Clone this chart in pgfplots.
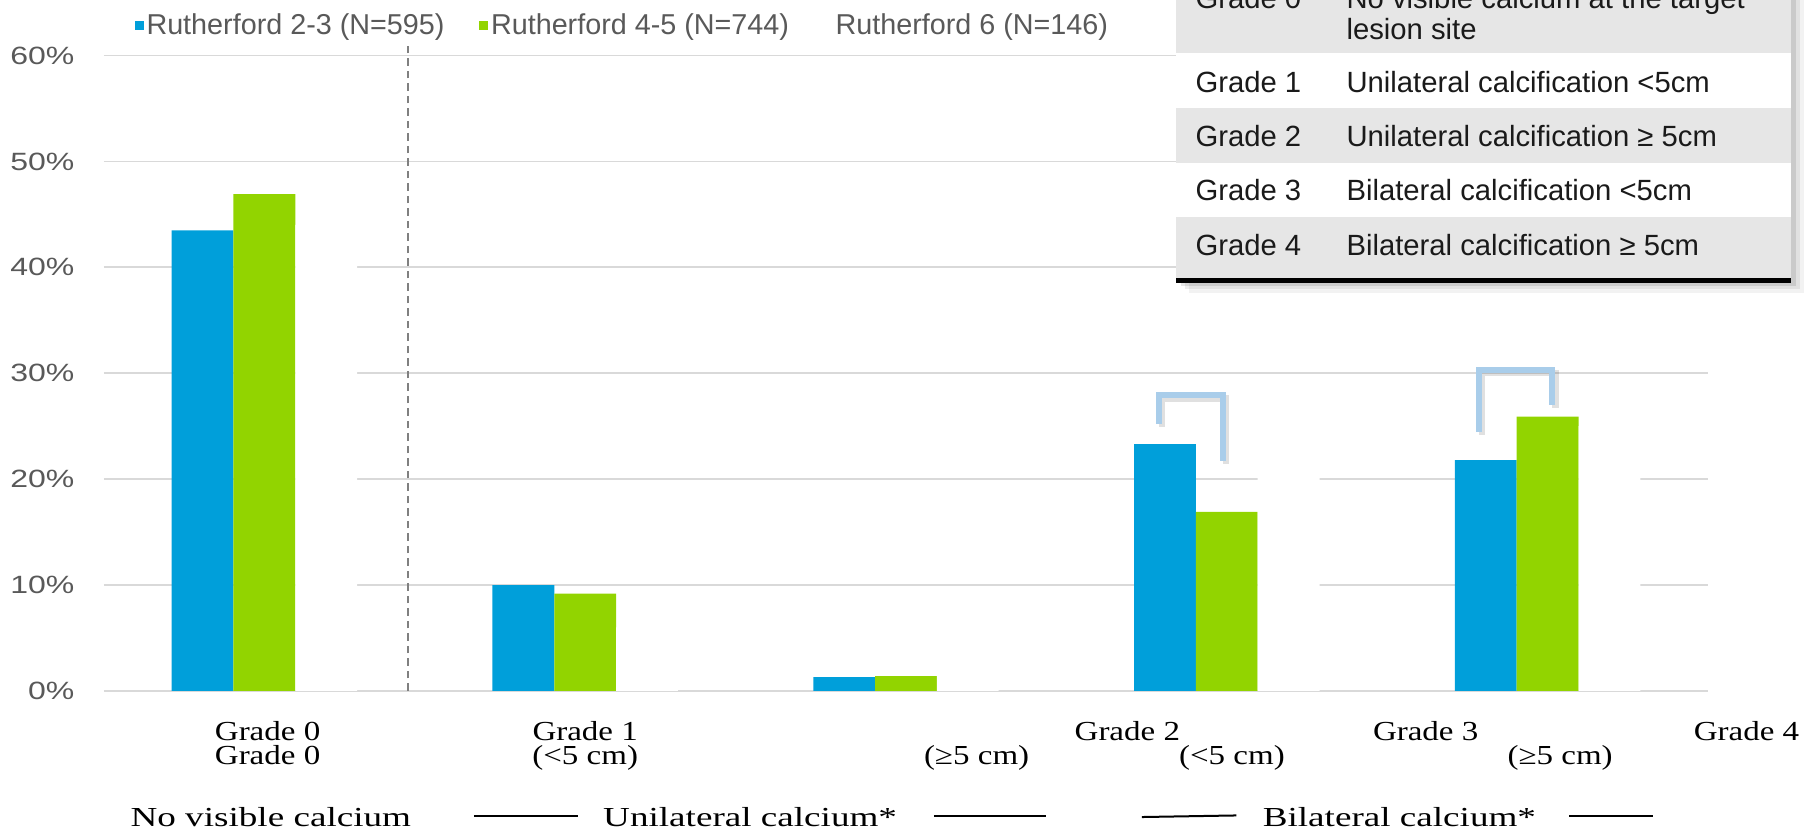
\documentclass[border=0pt]{standalone}
\usepackage{fontspec}
\setmainfont{Liberation Serif}
\newfontfamily\arial{Liberation Sans}
\usepackage{pgfplots}
\pgfplotsset{compat=1.18}

\definecolor{rbBlue}{HTML}{009FDA}
\definecolor{rbGreen}{HTML}{92D400}
\definecolor{gridGray}{HTML}{D9D9D9}
\definecolor{labelGray}{HTML}{595959}
\definecolor{bracketBlue}{HTML}{A9CDEA}
\definecolor{rowGray}{HTML}{E6E6E6}
\definecolor{tableText}{HTML}{1A1A1A}

% share of patients per calcium grade
\pgfplotstableread{
x  r23   r45   r6
0  43.5  46.9  44
1  10.0   9.2   6
2   1.3   1.4   2
3  23.3  16.9  24
4  21.8  25.9  25
}\calcdata

\tikzset{
  cat/.style={anchor=base, inner sep=0pt, font=\fontsize{11}{12}\selectfont, xscale=1.2},
  grpname/.style={cat, xscale=1.125},
  grp/.style={black, line width=0.8pt},
  brk/.style={bracketBlue, line width=2.4pt, line join=miter, line cap=butt},
  brkshadow/.style={black, opacity=0.12, line width=2.6pt, line join=miter},
  tcell/.style={anchor=base west, inner sep=0pt, text=tableText, font=\arial\fontsize{11.7}{13}\selectfont},
}

\begin{document}
\begin{tikzpicture}
\path[use as bounding box] (-41.6pt,-57.6pt) rectangle (683.2pt,276.4pt);
\begin{axis}[
  scale only axis, width=641.6pt, height=254.2pt,
  xmin=-0.5, xmax=4.5, ymin=0, ymax=60,
  clip=false,
  axis line style={draw=none},
  xtick=\empty,
  ytick={0,10,...,60},
  yticklabels={0\%,10\%,20\%,30\%,40\%,50\%,60\%},
  major tick length=0pt,
  ymajorgrids, grid style={gridGray, line width=0.7pt},
  yticklabel style={font=\arial\fontsize{10}{11}\selectfont, text=labelGray,
    inner sep=0pt, anchor=east, xshift=-11.6pt, xscale=1.28},
  legend columns=3,
  legend style={at={(axis description cs:0.0187,1.047)}, anchor=west,
    draw=none, fill=none, inner sep=0pt,
    font=\arial\fontsize{11.5}{12}\selectfont, text=labelGray,
    nodes={inner xsep=1.2pt, inner ysep=0pt},
    /tikz/every even column/.append style={column sep=12.6pt},
    /tikz/column 4/.append style={column sep=17.2pt}},
]
\addplot[ybar, bar width=24.73pt, bar shift=-24.73pt, fill=rbBlue, draw=none,
  legend image code/.code={\fill[rbBlue] (0pt,-1.9pt) rectangle (3.6pt,1.9pt);}]
  table[x=x, y=r23] {\calcdata};
\addlegendentry{Rutherford 2-3 (N=595)}
\addplot[ybar, bar width=24.73pt, bar shift=0pt, fill=rbGreen, draw=none,
  legend image code/.code={\fill[rbGreen] (0pt,-1.9pt) rectangle (3.6pt,1.9pt);}]
  table[x=x, y=r45] {\calcdata};
\addlegendentry{Rutherford 4-5 (N=744)}
\addplot[ybar, bar width=24.73pt, bar shift=24.73pt, fill=white, draw=none,
  legend image code/.code={\fill[white] (0pt,-1.9pt) rectangle (3.6pt,1.9pt);}]
  table[x=x, y=r6] {\calcdata};
\addlegendentry{Rutherford 6 (N=146)}

% separator between grade 0 and the calcified grades
\draw[gray, line width=0.6pt, dash pattern=on 3pt off 2pt]
  (axis cs:0.448,0) -- (axis cs:0.448,61);

% significance brackets
\draw[brkshadow, xshift=1.2pt, yshift=-1.2pt]
  (axis cs:2.789,25.2) -- (axis cs:2.789,27.9) -- (axis cs:2.988,27.9) -- (axis cs:2.988,21.7);
\draw[brk] (axis cs:2.789,25.2) -- (axis cs:2.789,27.9) -- (axis cs:2.988,27.9) -- (axis cs:2.988,21.7);
\draw[brkshadow, xshift=1.2pt, yshift=-1.2pt]
  (axis cs:3.786,24.5) -- (axis cs:3.786,30.3) -- (axis cs:4.015,30.3) -- (axis cs:4.015,27.0);
\draw[brk] (axis cs:3.786,24.5) -- (axis cs:3.786,30.3) -- (axis cs:4.015,30.3) -- (axis cs:4.015,27.0);

% category labels
\node[cat] at (axis cs:0.01,-4.72) {Grade 0};
\node[cat] at (axis cs:1.00,-4.72) {Grade 1};
\node[cat] at (axis cs:2.69,-4.72) {Grade 2};
\node[cat] at (axis cs:3.62,-4.72) {Grade 3};
\node[cat] at (axis cs:4.62,-4.72) {Grade 4};
\node[cat] at (axis cs:0.01,-6.95) {Grade 0};
\node[cat] at (axis cs:1.00,-6.95) {(<5 cm)};
\node[cat] at (axis cs:2.22,-6.95) {(≥5 cm)};
\node[cat] at (axis cs:3.016,-6.95) {(<5 cm)};
\node[cat] at (axis cs:4.039,-6.95) {(≥5 cm)};
\node[grpname] at (axis cs:0.02,-12.8) {No visible calcium};
\node[grpname] at (axis cs:1.514,-12.8) {Unilateral calcium*};
\node[grpname] at (axis cs:3.538,-12.8) {Bilateral calcium*};
\draw[grp] (axis cs:0.653,-11.8) -- (axis cs:0.978,-11.8);
\draw[grp] (axis cs:2.087,-11.8) -- (axis cs:2.436,-11.8);
\draw[grp] (axis cs:2.735,-11.9) -- (axis cs:3.030,-11.75);
\draw[grp] (axis cs:4.067,-11.8) -- (axis cs:4.327,-11.8);
\end{axis}

% grade definitions box
\fill[black, opacity=0.05] (433.8pt,159.2pt) rectangle (679.8pt,300pt);
\fill[black, opacity=0.07] (432.3pt,160.7pt) rectangle (678.3pt,300pt);
\fill[black, opacity=0.10] (430.8pt,162.0pt) rectangle (676.8pt,300pt);
\fill[rowGray] (428.8pt,255.2pt) rectangle (674.8pt,300pt);
\fill[white]   (428.8pt,233.2pt) rectangle (674.8pt,255.2pt);
\fill[rowGray] (428.8pt,211.2pt) rectangle (674.8pt,233.2pt);
\fill[white]   (428.8pt,189.6pt) rectangle (674.8pt,211.2pt);
\fill[rowGray] (428.8pt,165.2pt) rectangle (674.8pt,189.6pt);
\fill[black]   (428.8pt,163.2pt) rectangle (674.8pt,165.2pt);
\node[tcell] at (436.4pt,272.8pt) {Grade 0};
\node[tcell] at (496.8pt,272.8pt) {No visible calcium at the target};
\node[tcell] at (496.8pt,260.6pt) {lesion site};
\node[tcell] at (436.4pt,239.4pt) {Grade 1};
\node[tcell] at (496.8pt,239.4pt) {Unilateral calcification <5cm};
\node[tcell] at (436.4pt,217.8pt) {Grade 2};
\node[tcell] at (496.8pt,217.8pt) {Unilateral calcification ≥ 5cm};
\node[tcell] at (436.4pt,196.2pt) {Grade 3};
\node[tcell] at (496.8pt,196.2pt) {Bilateral calcification <5cm};
\node[tcell] at (436.4pt,174.2pt) {Grade 4};
\node[tcell] at (496.8pt,174.2pt) {Bilateral calcification ≥ 5cm};
\end{tikzpicture}
\end{document}
